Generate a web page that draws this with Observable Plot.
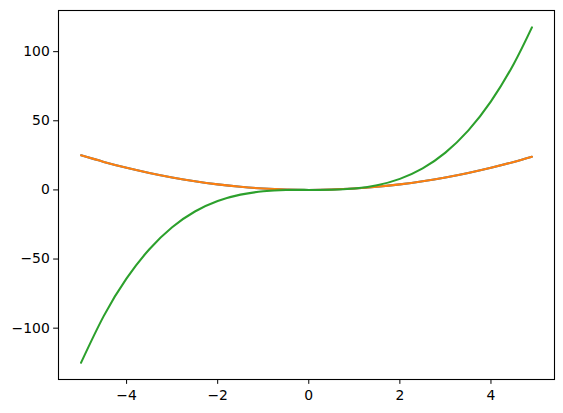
<!DOCTYPE html>
<html>
<head>
<meta charset="utf-8">
<script src="https://cdn.jsdelivr.net/npm/d3@7"></script>
<script src="https://cdn.jsdelivr.net/npm/@observablehq/plot@0.6"></script>
<style>
  html, body { margin: 0; padding: 0; background: white; }
</style>
</head>
<body>
<div id="chart"></div>
<script>
const xs = [-5, -4.5, -4, -3.5, -3, -2.5, -2, -1.5, -1, -0.5, 0, 0.5, 1, 1.5, 2, 2.5, 3, 3.5, 4, 4.5, 4.9];
const blueY = [25, 20.25, 16, 12.25, 9, 6.25, 4, 2.25, 1, 0.25, 0, 0.25, 1, 2.25, 4, 6.25, 9, 12.25, 16, 20.25, 24.01];
const orangeY = [25, 20.25, 16, 12.25, 9, 6.25, 4, 2.25, 1, 0.25, 0, 0.25, 1, 2.25, 4, 6.25, 9, 12.25, 16, 20.25, 24.01];
const greenY = [-125, -91.1, -64, -42.9, -27, -15.6, -8, -3.4, -1, -0.1, 0, 0.1, 1, 3.4, 8, 15.6, 27, 42.9, 64, 91.1, 117.6];
const xTicks = [-4, -2, 0, 2, 4];
const yTicks = [-100, -50, 0, 50, 100];

const mk = (ys) => xs.map((x, i) => ({x, y: ys[i]}));
const blue = mk(blueY), orange = mk(orangeY), green = mk(greenY);

const tick = 4.86;
const chart = Plot.plot({
  width: 563,
  height: 413,
  marginLeft: 58,
  marginRight: 9,
  marginTop: 10,
  marginBottom: 34,
  style: {fontFamily: "DejaVu Sans", fontSize: "13.9px", background: "white", color: "black"},
  x: {domain: [-5.495, 5.395], label: null},
  y: {domain: [-137.13, 129.78], label: null},
  marks: [
    Plot.line(blue, {x: "x", y: "y", stroke: "#1f77b4", strokeWidth: 2.08, curve: "natural"}),
    Plot.line(orange, {x: "x", y: "y", stroke: "#ff7f0e", strokeWidth: 2.08, curve: "natural"}),
    Plot.line(green, {x: "x", y: "y", stroke: "#2ca02c", strokeWidth: 2.08, curve: "natural"}),
    Plot.frame({stroke: "black", strokeWidth: 1.1}),
    Plot.axisX({ticks: xTicks, tickSize: tick, tickPadding: tick + 1, label: null, fontSize: 13.9}),
    Plot.axisY({ticks: yTicks, tickSize: tick, tickPadding: tick - 1, label: null, fontSize: 13.9})
  ]
});
document.getElementById("chart").appendChild(chart);
</script>
</body>
</html>
